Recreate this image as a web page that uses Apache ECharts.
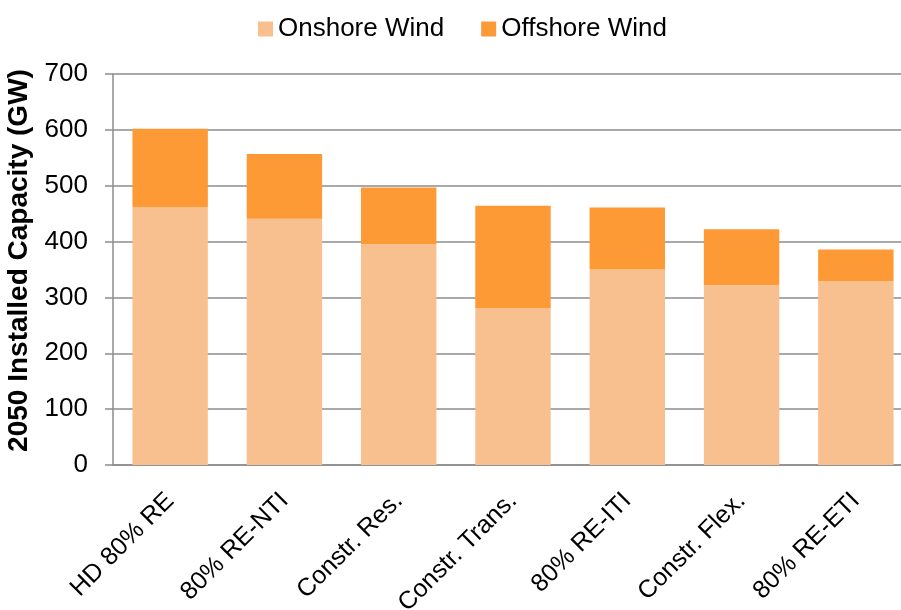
<!DOCTYPE html>
<html>
<head>
<meta charset="utf-8">
<script src="https://cdn.jsdelivr.net/npm/echarts@6/dist/echarts.min.js"></script>
<style>
  html, body { margin: 0; padding: 0; background: #fff; }
  #chart { width: 901px; height: 610px; }
</style>
</head>
<body>
<div id="chart"></div>
<script>
var categories = ['HD 80% RE', '80% RE-NTI', 'Constr. Res.', 'Constr. Trans.', '80% RE-ITI', 'Constr. Flex.', '80% RE-ETI'];
var onshore = [462, 441, 395, 281, 350, 322, 329];
var offshore = [140, 116, 102, 183, 111, 100, 57];
var yTicks = { min: 0, max: 700, interval: 100 };

var myChart = echarts.init(document.getElementById('chart'));
var font = 'Liberation Sans, Arial, sans-serif';
var option = {
    animation: false,
    textStyle: { fontFamily: font },
    legend: {
        left: 253,
        top: 11,
        itemWidth: 15,
        itemHeight: 15,
        itemGap: 37,
        icon: 'rect',
        textStyle: { fontSize: 26, color: '#000', fontFamily: font },
        data: ['Onshore Wind', 'Offshore Wind']
    },
    grid: { left: 113, top: 74, width: 800, height: 391, outerBoundsMode: 'none' },
    xAxis: {
        type: 'category',
        data: categories,
        axisLine: { lineStyle: { color: '#8c8c8c', width: 1.5 } },
        axisTick: { length: 8, lineStyle: { color: '#8c8c8c', width: 1.5 } },
        axisLabel: { rotate: 45, fontSize: 25, color: '#000', margin: 32, interval: 0, fontFamily: font }
    },
    yAxis: {
        type: 'value',
        min: yTicks.min,
        max: yTicks.max,
        interval: yTicks.interval,
        name: '2050 Installed Capacity (GW)',
        nameLocation: 'middle',
        nameGap: 76,
        nameTextStyle: { fontSize: 28, fontWeight: 'bold', color: '#000', fontFamily: font, padding: [0, 0, 0, 18] },
        axisLine: { show: true, lineStyle: { color: '#8c8c8c', width: 1.5 } },
        axisTick: { show: true, length: 8, lineStyle: { color: '#8c8c8c', width: 1.5 } },
        axisLabel: { fontSize: 26, color: '#000', margin: 25, fontFamily: font },
        splitLine: { lineStyle: { color: '#8c8c8c', width: 1.5 } }
    },
    series: [
        {
            name: 'Onshore Wind',
            type: 'bar',
            stack: 'wind',
            barWidth: '66%',
            itemStyle: { color: '#F9C08F' },
            data: onshore
        },
        {
            name: 'Offshore Wind',
            type: 'bar',
            stack: 'wind',
            barWidth: '66%',
            itemStyle: { color: '#FE9A36' },
            data: offshore
        }
    ]
};
myChart.setOption(option);
</script>
</body>
</html>
